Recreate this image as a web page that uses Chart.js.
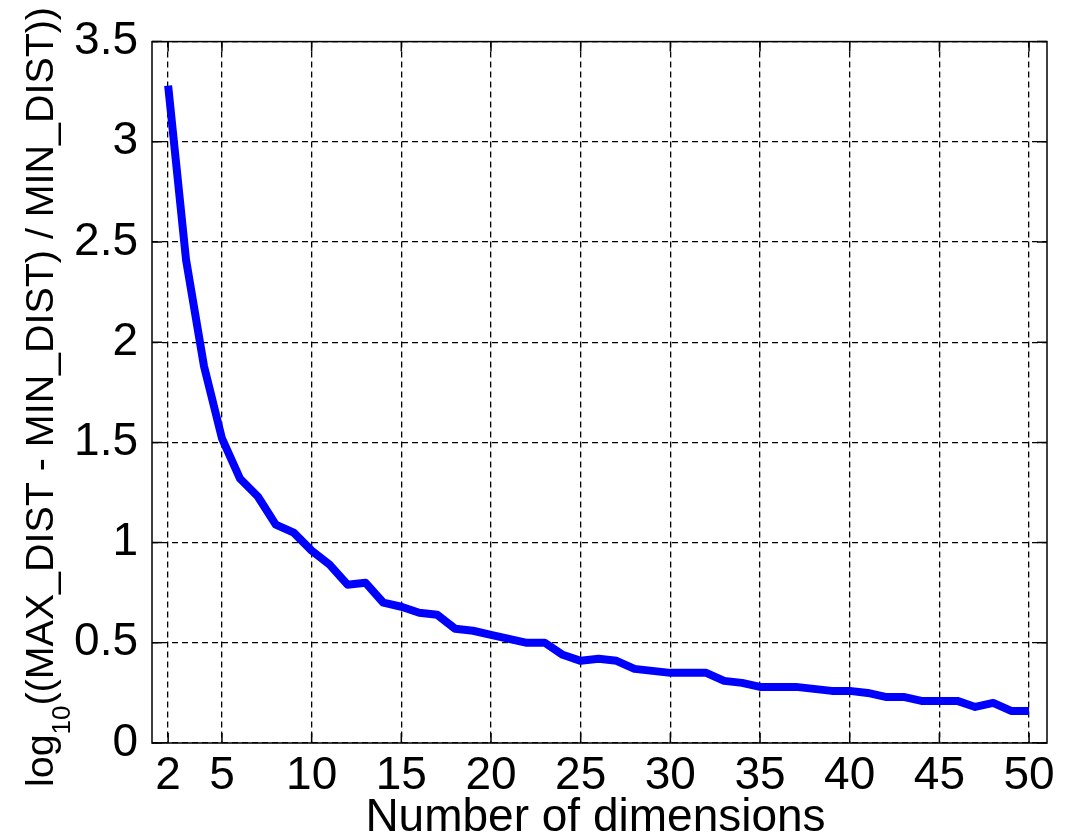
<!DOCTYPE html>
<html>
<head>
<meta charset="utf-8">
<script src="https://cdn.jsdelivr.net/npm/chart.js@4.4.0/dist/chart.umd.min.js"></script>
<style>
  html, body { margin: 0; padding: 0; background: #fff; }
  #wrap { width: 1066px; height: 837px; }
</style>
</head>
<body>
<div id="wrap"><canvas id="dims-chart" width="1066" height="837"></canvas></div>
<script>
// number of dimensions vs log10 of relative contrast
const dims = [2, 3, 4, 5, 6, 7, 8, 9, 10, 11, 12, 13, 14, 15, 16, 17, 18, 19, 20, 21, 22, 23, 24, 25, 26,
  27, 28, 29, 30, 31, 32, 33, 34, 35, 36, 37, 38, 39, 40, 41, 42, 43, 44, 45, 46, 47, 48, 49, 50];
const contrast = [3.28, 2.41, 1.88, 1.52, 1.32, 1.23, 1.09, 1.05, 0.96, 0.89, 0.79, 0.80, 0.70, 0.68, 0.65,
  0.64, 0.57, 0.56, 0.54, 0.52, 0.50, 0.50, 0.44, 0.41, 0.42, 0.41, 0.37, 0.36, 0.35, 0.35, 0.35, 0.31,
  0.30, 0.28, 0.28, 0.28, 0.27, 0.26, 0.26, 0.25, 0.23, 0.23, 0.21, 0.21, 0.21, 0.18, 0.20, 0.16, 0.16];
const xTicks = [2, 5, 10, 15, 20, 25, 30, 35, 40, 45, 50];
const yTicks = [0, 0.5, 1, 1.5, 2, 2.5, 3, 3.5];
const xTitle = 'Number of dimensions';
const yTitleMain = 'log';
const yTitleSub = '10';
const yTitleRest = '((MAX_DIST - MIN_DIST) / MIN_DIST))';

const FONT = '"Liberation Sans", Arial, Helvetica, sans-serif';

// white background, box around the axes, inward tick marks, axis titles
const matlabLook = {
  id: 'matlabLook',
  beforeDraw(chart) {
    const ctx = chart.ctx;
    ctx.save();
    ctx.fillStyle = '#fff';
    ctx.fillRect(0, 0, chart.width, chart.height);
    ctx.restore();
  },
  afterDraw(chart) {
    const ctx = chart.ctx;
    const a = chart.chartArea;
    const xs = chart.scales.x, ys = chart.scales.y;
    const tl = 10;
    ctx.save();
    ctx.strokeStyle = '#000';
    ctx.lineWidth = 1.5;
    ctx.setLineDash([]);
    ctx.strokeRect(a.left, a.top, a.right - a.left, a.bottom - a.top);
    ctx.beginPath();
    xTicks.forEach(function(v) {
      const px = xs.getPixelForValue(v);
      ctx.moveTo(px, a.bottom); ctx.lineTo(px, a.bottom - tl);
      ctx.moveTo(px, a.top); ctx.lineTo(px, a.top + tl);
    });
    yTicks.forEach(function(v) {
      const py = ys.getPixelForValue(v);
      ctx.moveTo(a.left, py); ctx.lineTo(a.left + tl, py);
      ctx.moveTo(a.right, py); ctx.lineTo(a.right - tl, py);
    });
    ctx.stroke();

    // x title
    ctx.fillStyle = '#000';
    ctx.font = '46px ' + FONT;
    ctx.textAlign = 'center';
    ctx.textBaseline = 'alphabetic';
    ctx.fillText(xTitle, (a.left + a.right) / 2 - 4, 831);

    // y title, rotated, with subscript
    const mainFont = '38px ' + FONT, subFont = '25px ' + FONT;
    ctx.font = mainFont;
    const w1 = ctx.measureText(yTitleMain).width;
    const w3 = ctx.measureText(yTitleRest).width;
    ctx.font = subFont;
    const w2 = ctx.measureText(yTitleSub).width;
    const total = w1 + w2 + w3;
    const len = 780;
    ctx.translate(53, 787);
    ctx.rotate(-Math.PI / 2);
    ctx.scale(len / total, 1);
    ctx.textAlign = 'left';
    ctx.font = mainFont;
    ctx.fillText(yTitleMain, 0, 0);
    ctx.font = subFont;
    ctx.fillText(yTitleSub, w1, 17);
    ctx.font = mainFont;
    ctx.fillText(yTitleRest, w1 + w2, 0);
    ctx.restore();
  }
};

const data = {
  datasets: [{
    label: 'contrast',
    data: dims.map((d, i) => ({ x: d, y: contrast[i] })),
    borderColor: '#0000ff',
    backgroundColor: '#0000ff',
    borderWidth: 8,
    pointRadius: 0,
    tension: 0,
    borderJoinStyle: 'round',
    borderCapStyle: 'butt',
  }],
};

const ctx = document.getElementById('dims-chart').getContext('2d');
const myChart = new Chart(ctx, {
  type: 'line',
  data: data,
  options: {
    responsive: false,
    animation: false,
    devicePixelRatio: 1,
    layout: { padding: { top: 39, right: 19, left: 0, bottom: 0 } },
    scales: {
      x: {
        type: 'linear',
        min: 1.1,
        max: 51,
        afterBuildTicks: function(scale) { scale.ticks = xTicks.map(v => ({ value: v })); },
        afterFit: function(scale) { scale.height = 94; },
        grid: { color: '#000', lineWidth: 1.3, drawTicks: false },
        border: { display: false, dash: [6, 4] },
        ticks: {
          color: '#000',
          padding: 6,
          maxRotation: 0,
          autoSkip: false,
          font: { family: FONT, size: 46 },
        }
      },
      y: {
        min: 0,
        max: 3.5,
        afterBuildTicks: function(scale) { scale.ticks = yTicks.map(v => ({ value: v })); },
        afterFit: function(scale) { scale.width = 152; },
        grid: { color: '#000', lineWidth: 1.3, drawTicks: false },
        border: { display: false, dash: [6, 4] },
        ticks: {
          color: '#000',
          padding: 14,
          autoSkip: false,
          font: { family: FONT, size: 46 },
          callback: function(v) { return String(v); }
        }
      }
    },
    plugins: {
      legend: { display: false },
      tooltip: { enabled: false },
    },
  },
  plugins: [matlabLook],
});
</script>
</body>
</html>
